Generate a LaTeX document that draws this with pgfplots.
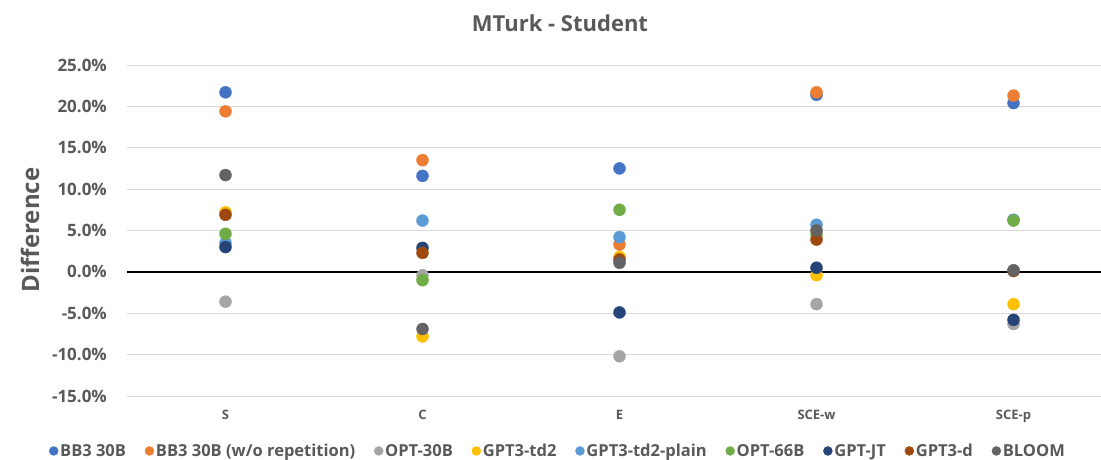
\documentclass[border=0pt]{standalone}
\usepackage{fontspec}
\setmainfont{Open Sans}
\usepackage{pgfplots}
\pgfplotsset{compat=1.18}
\definecolor{txt}{HTML}{595959}
\definecolor{gridc}{HTML}{D9D9D9}
\definecolor{cBB}{HTML}{4472C4}
\definecolor{cBBw}{HTML}{ED7D31}
\definecolor{cOPTa}{HTML}{A5A5A5}
\definecolor{cTD}{HTML}{FFC000}
\definecolor{cTDp}{HTML}{5B9BD5}
\definecolor{cOPTb}{HTML}{70AD47}
\definecolor{cJT}{HTML}{264478}
\definecolor{cD}{HTML}{9E480E}
\definecolor{cBL}{HTML}{636363}
\pgfplotsset{dot/.style={color=#1, only marks, mark=*, mark size=6pt, mark options={solid, fill=#1, draw=#1}}}
\begin{document}
\begin{tikzpicture}
\useasboundingbox (0,0) rectangle (1101pt,459pt);
\begin{axis}[
  at={(127pt,63pt)}, anchor=south west,
  scale only axis, width=974pt, height=331pt,
  xmin=-0.5, xmax=4.444, ymin=-15, ymax=25,
  axis line style={draw=none}, major tick length=0pt,
  xtick={0,1,2,3,4}, xticklabels={S,C,E,SCE-w,SCE-p},
  ytick={-15,-10,...,25},
  yticklabels={-15.0\%,-10.0\%,-5.0\%,0.0\%,5.0\%,10.0\%,15.0\%,20.0\%,25.0\%},
  ymajorgrids, grid style={gridc, line width=1pt},
  extra y ticks={0}, extra y tick labels={},
  extra y tick style={grid style={black, line width=2pt}},
  yticklabel style={font=\fontsize{17}{20}\selectfont\bfseries, text=txt, anchor=east, inner sep=0pt, xshift=-20pt},
  xticklabel style={font=\fontsize{13}{16}\selectfont\bfseries, text=txt, anchor=north, inner sep=0pt, yshift=-14pt},
  clip=false,
  legend columns=9,
  legend style={at={(0.4425,-0.166)}, anchor=center, draw=none, fill=none,
    font=\fontsize{16.5}{19}\selectfont\bfseries, text=txt,
    /tikz/every even column/.append style={column sep=17pt}},
  legend image post style={mark size=4.5pt},
]
\addplot[dot=cBB] coordinates {(0,21.7) (1,11.6) (2,12.5) (3,21.4) (4,20.4)};
\addplot[dot=cBBw] coordinates {(0,19.4) (1,13.5) (2,3.3) (3,21.7) (4,21.3)};
\addplot[dot=cOPTa] coordinates {(0,-3.6) (1,-0.4) (2,-10.2) (3,-3.9) (4,-6.3)};
\addplot[dot=cTD] coordinates {(0,7.2) (1,-7.8) (2,1.8) (3,-0.4) (4,-3.9)};
\addplot[dot=cTDp] coordinates {(0,3.5) (1,6.2) (2,4.2) (3,5.7) (4,6.3)};
\addplot[dot=cOPTb] coordinates {(0,4.6) (1,-1.0) (2,7.5) (3,4.5) (4,6.2)};
\addplot[dot=cJT] coordinates {(0,3.0) (1,2.9) (2,-4.9) (3,0.5) (4,-5.8)};
\addplot[dot=cD] coordinates {(0,6.9) (1,2.3) (2,1.5) (3,3.9) (4,0.1)};
\addplot[dot=cBL] coordinates {(0,11.7) (1,-6.9) (2,1.1) (3,5.0) (4,0.2)};
\legend{BB3 30B, BB3 30B (w/o repetition), OPT-30B, GPT3-td2, GPT3-td2-plain, OPT-66B, GPT-JT, GPT3-d, BLOOM}
\end{axis}
\node[font=\fontsize{22}{26}\selectfont\bfseries, text=txt] at (560pt,436pt) {MTurk - Student};
\node[font=\fontsize{24}{28}\selectfont\bfseries, text=txt, rotate=90] at (30pt,229pt) {Difference};
\end{tikzpicture}
\end{document}
